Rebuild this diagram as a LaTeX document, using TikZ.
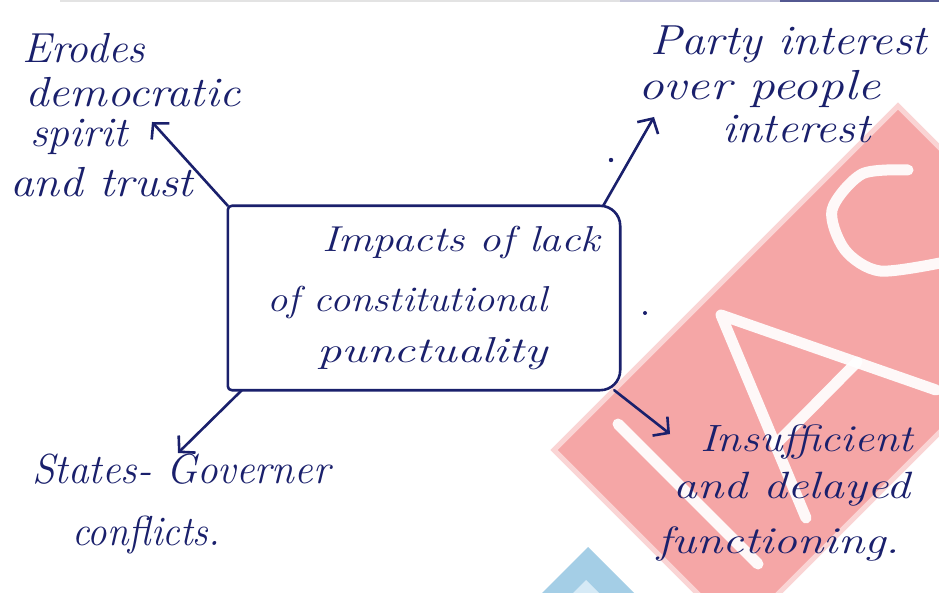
\documentclass[tikz,border=0pt]{standalone}
\usepackage{fontspec}
\usepackage{graphicx}
\usepackage{xfp}
\usetikzlibrary{arrows.meta}

\definecolor{ink}{RGB}{26,32,108}
\definecolor{wmred}{RGB}{245,166,166}
\definecolor{wmedge}{RGB}{250,212,212}
\definecolor{wmblue}{RGB}{164,206,230}
\definecolor{wmbluelight}{RGB}{214,234,246}

% set a line of text and stretch it horizontally to a given width (in pt)
\newlength\handwd
\newcommand\fitw[2]{\settowidth\handwd{#2}\scalebox{\fpeval{#1/\handwd}}[1]{#2}}

\tikzset{
  hand/.style={font=\fontsize{#1}{#1}\selectfont\itshape, text=ink,
    inner sep=0pt, anchor=base west},
  hand/.default=44,
  pen/.style={draw=ink, line width=2.6pt, line cap=round, line join=round},
  arrowpen/.style={pen, -{Straight Barb[length=11pt,width=24pt]}},
  wmstroke/.style={draw=white, line width=11pt, line cap=round,
    line join=round, opacity=0.92},
}

\begin{document}
\begin{tikzpicture}[x=1pt,y=-1pt]
\useasboundingbox (0,0) rectangle (939,593);
\fill[white] (0,0) rectangle (939,593);

% watermark band, letters and chevron
\begin{scope}
  \clip (0,0) rectangle (939,593);
  \filldraw[fill=wmred, draw=wmedge, line width=5pt]
    (898,106) -- (554,450) -- (738,634) -- (1082,290) -- cycle;
  \draw[wmstroke] (618,424) -- (758,564);
  \draw[wmstroke] (806,518) -- (721,315) -- (936,390);
  \draw[wmstroke] (776,444) -- (857,362);
  \draw[wmstroke] plot[smooth] coordinates
    {(908,170) (862,174) (832,210) (845,250) (880,271) (945,262)};
  \fill[wmblue] (588,547) -- (634,593) -- (542,593) -- cycle;
  \fill[wmbluelight] (586,580) -- (599,593) -- (573,593) -- cycle;
  % page edge at the top
  \draw[gray!22, line width=1.5pt] (60,1) -- (640,1);
  \draw[ink!25, line width=3pt] (620,1) -- (780,1);
  \draw[ink!75, line width=3pt] (780,1) -- (939,1);
\end{scope}

% central box
\node[minimum width=392pt, minimum height=184pt, inner sep=0pt] (hub) at (424,298) {};
\draw[pen] (hub.south west) [rounded corners=4pt] -- (hub.north west)
  [rounded corners=20pt] -- (hub.north east) -- (hub.south east)
  [rounded corners=4pt] -- cycle;

\node[hand=36] (ct1) at (322,252) {\fitw{278}{Impacts of lack}};
\node[hand=36] (ct2) at (267,312) {\fitw{280}{of constitutional}};
\node[hand=36] (ct3) at (317,362) {\fitw{230}{punctuality}};

% upper left
\node[hand=42] (er1) at (22,63) {\fitw{123}{Erodes}};
\node[hand=42] (er2) at (25,107) {\fitw{215}{democratic}};
\node[hand=42] (er3) at (30,147) {\fitw{98}{spirit}};
\node[hand=42] (er4) at (10,197) {\fitw{183}{and trust}};

% upper right
\node[hand=42] (pa1) at (650,55) {\fitw{277}{Party interest}};
\node[hand=42] (pa2) at (638,100) {\fitw{242}{over people}};
\node[hand=42] (pa3) at (722,143) {\fitw{148}{interest}};

% lower left
\node[hand=42] (st1) at (32,483) {\fitw{298}{States- Governer}};
\node[hand=42] (st2) at (72,545) {\fitw{148}{conflicts.}};

% lower right
\node[hand=38] (in1) at (700,451) {\fitw{213}{Insufficient}};
\node[hand=38] (in2) at (673,498) {\fitw{237}{and delayed}};
\node[hand=38] (in3) at (657,553) {\fitw{243}{functioning.}};

% arrow tips
\coordinate (tErodes) at (152,122);
\coordinate (tParty) at (654,117);
\coordinate (tStates) at (178,453);
\coordinate (tInsuf) at (670,434);

\draw[arrowpen] (hub.north west) -- (tErodes);
\draw[arrowpen] ([xshift=-17pt]hub.north east) -- (tParty);
\draw[arrowpen] ([xshift=14pt]hub.south west) -- (tStates);
\draw[arrowpen] ([xshift=-6pt]hub.south east) -- (tInsuf);

% pen specks
\fill[ink] (611,160) circle (2.2pt);
\fill[ink] (645,313) circle (2pt);
\end{tikzpicture}
\end{document}
